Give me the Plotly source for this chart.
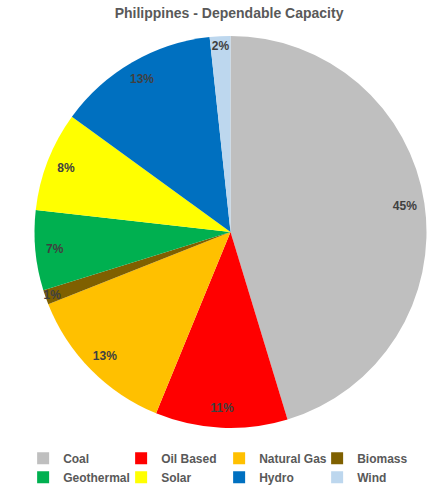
import plotly.graph_objects as go

labels = ["Coal", "Oil Based", "Natural Gas", "Biomass", "Geothermal", "Solar", "Hydro", "Wind"]
values = [45.3, 10.9, 12.8, 1.2, 6.6, 8.2, 13.3, 1.7]
colors = ["#BFBFBF", "#FF0000", "#FFC000", "#7F6000", "#00B050", "#FFFF00", "#0070C0", "#BDD7EE"]

FONT = "Liberation Sans"

fig = go.Figure()
fig.add_trace(go.Pie(
    labels=labels, values=values, sort=False, direction="clockwise", rotation=0,
    marker=dict(colors=colors, line=dict(width=0)),
    textinfo="none", hoverinfo="label+percent", showlegend=True,
))
fig.add_trace(go.Pie(
    labels=labels, values=values, sort=False, direction="clockwise", rotation=0,
    hole=0.8,
    marker=dict(colors=["rgba(0,0,0,0)"] * len(labels), line=dict(width=0)),
    texttemplate="%{percent:.0%}", textposition="inside",
    insidetextorientation="horizontal",
    textfont=dict(family=FONT, size=12, color="#404040", weight="bold"),
    hoverinfo="skip", showlegend=False,
))

fig.update_layout(
    width=438, height=492,
    paper_bgcolor="white", plot_bgcolor="white",
    margin=dict(l=33, r=10, t=36, b=64, autoexpand=False),
    title=dict(text="Philippines - Dependable Capacity", x=0.523, xanchor="center",
               y=0.974, yanchor="middle",
               font=dict(family=FONT, size=14, color="#595959", weight="bold")),
    uniformtext=dict(minsize=12, mode="show"),
    legend=dict(orientation="h", x=-0.025, xanchor="left", y=-0.04, yanchor="top",
                entrywidth=53, entrywidthmode="pixels", itemwidth=30,
                font=dict(family=FONT, size=12, color="#595959", weight="bold"),
                traceorder="normal"),
)

fig.write_html("out.html", config={"displayModeBar": False},
               post_script="document.body.style.margin='0';")
